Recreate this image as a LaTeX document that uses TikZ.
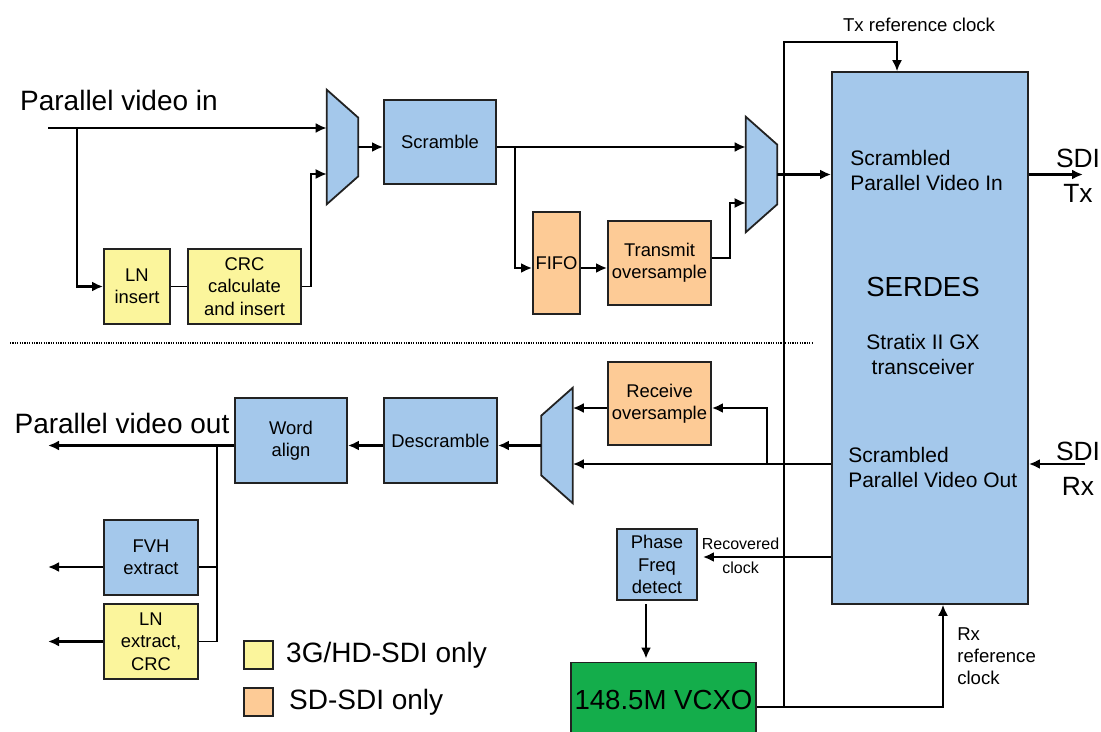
\documentclass[tikz,border=0pt]{standalone}
\usepackage{fontspec}
\setmainfont{Liberation Sans}
\usetikzlibrary{arrows.meta,positioning}

\definecolor{blkblue}{HTML}{A4C8EB}
\definecolor{blkyellow}{HTML}{FBF59C}
\definecolor{blkorange}{HTML}{FDCB96}
\definecolor{vcxogreen}{HTML}{14AD4B}
\definecolor{edgegray}{HTML}{222222}

\newcommand{\boxfont}{\fontsize{9.2}{11.2}\selectfont}
\newcommand{\bigfont}{\fontsize{14}{17}\selectfont}
\newcommand{\midfont}{\fontsize{10.5}{12.5}\selectfont}
\newcommand{\smallfont}{\fontsize{8}{12}\selectfont}
\newcommand{\clkfont}{\fontsize{9.3}{11}\selectfont}
\newcommand{\sdifont}{\fontsize{13.2}{17.5}\selectfont}

\begin{document}
\begin{tikzpicture}[x=0.5pt,y=-0.5pt,>={Latex[length=5.5pt,width=5pt]},line width=1.3pt]
\tikzstyle{blk}=[draw=edgegray,line width=0.9pt,inner sep=0pt,align=center,font=\boxfont,text=black]
\tikzstyle{mux}=[inner sep=0pt,minimum width=14.5pt]
\tikzstyle{muxshape}=[fill=blkblue,draw=edgegray,line width=0.9pt]
\tikzstyle{wire}=[line width=0.8pt]
\tikzstyle{leg}=[draw=edgegray,line width=0.9pt,minimum width=14.5pt,minimum height=14pt,inner sep=0pt]

\useasboundingbox (0,0) rectangle (1101,732);

% transmit side
\node[font=\bigfont]	(pvin) at (119,100) {Parallel video in};
\coordinate		(vin) at (48,128);
\coordinate		(vtap) at (77,128);
\node[blk,fill=blkyellow,minimum width=33pt,minimum height=37.5pt]	(lnins) at (137,286.5) {LN\\insert};
\node[blk,fill=blkyellow,minimum width=56.5pt,minimum height=37.5pt]	(crc) [right of=lnins,node distance=53.75pt] {CRC\\calculate\\and insert};
\node[mux,minimum height=56pt]	(mux1) at (342.5,147) {};
\node[blk,fill=blkblue,minimum width=56pt,minimum height=42pt]	(scr) at (440,142) {Scramble};
\coordinate		(scrtap) at (515,147);
\node[blk,fill=blkorange,minimum width=23.5pt,minimum height=51pt]	(fifo) at (556.5,263) {FIFO};
\node[blk,fill=blkorange,minimum width=51.5pt,minimum height=42pt]	(txos) [right of=fifo,node distance=51.5pt] {Transmit\\oversample};
\node[mux,minimum height=56.5pt]	(mux2) at (761.5,174.5) {};

% serdes
\node[blk,fill=blkblue,minimum width=98pt,minimum height=266pt]	(serdes) at (930,338) {};
\node[font=\fontsize{13.8}{16}\selectfont]	(serdesl) at (923,287) {SERDES};
\node[font=\midfont,align=center]	(stratix) [below of=serdesl,node distance=33.75pt] {Stratix II GX\\transceiver};
\node[font=\midfont,align=left,anchor=west,inner sep=0pt]	(spvin) at (849,170.5) {Scrambled\\Parallel Video In};
\node[font=\midfont,align=left,anchor=west,inner sep=0pt]	(spvout) at (847,467.5) {Scrambled\\Parallel Video Out};
\node[font=\clkfont]	(txclk) at (919,25) {Tx reference clock};
\node[font=\sdifont,align=center]	(sditxl) at (1078,175.5) {SDI\\Tx};
\node[font=\sdifont,align=center]	(sdirxl) at (1078,469) {SDI\\Rx};
\coordinate		(txout) at (1083,174.5);
\coordinate		(rxin) at (1085,464);

% receive side
\node[mux,minimum height=56.5pt]	(mux3) at (557,445.5) {};
\coordinate		(rxtap) at (767,464);
\node[blk,fill=blkorange,minimum width=51.5pt,minimum height=41.5pt]	(rxos) at (659.5,403.5) {Receive\\oversample};
\node[blk,fill=blkblue,minimum width=56.5pt,minimum height=42.5pt]	(desc) at (440.5,440.5) {Descramble};
\node[blk,fill=blkblue,minimum width=56pt,minimum height=42.5pt]	(wal) [left of=desc,node distance=74.75pt] {Word\\align};
\node[font=\bigfont]	(pvout) at (122,423) {Parallel video out};
\coordinate		(vout) at (48,445.5);
\coordinate		(outtap) at (217,445.5);
\node[blk,fill=blkblue,minimum width=47pt,minimum height=37.5pt]	(fvh) at (151,557.5) {FVH\\extract};
\node[blk,fill=blkyellow,minimum width=47pt,minimum height=37.5pt]	(lnext) [below of=fvh,node distance=42pt] {LN\\extract,\\CRC};

% clocking
\node[blk,fill=blkblue,minimum width=40pt,minimum height=35.5pt]	(pfd) at (657,564.5) {Phase\\Freq\\detect};
\node[blk,fill=vcxogreen,minimum width=92.5pt,minimum height=37.5pt,font=\fontsize{13.8}{16}\selectfont]	(vcxo) at (663.5,700) {148.5M VCXO};
\node[font=\clkfont,align=left,anchor=west,inner sep=0pt]	(rxclk) at (956,656) {Rx\\reference\\clock};
\coordinate		(recclk) at ([yshift=3.75pt]pfd.east);
\coordinate		(pfdout) at ([xshift=-5.5pt]pfd.south);
\coordinate		(vcxoout) at ([yshift=-3.5pt]vcxo.east);
\coordinate		(rxref) at ([xshift=6.5pt]serdes.south);
\coordinate		(txref) at ([xshift=-16.5pt]serdes.north);
\coordinate		(clktap) at (784,707);

% legend
\node[leg,fill=blkyellow]	(leghd) at (258.5,655) {};
\node[leg,fill=blkorange]	(legsd) [below of=leghd,node distance=23.5pt] {};
\node[font=\bigfont,inner sep=0pt]	(leghdt) [right=5.5pt of leghd] {3G/HD-SDI only};
\node[font=\bigfont,inner sep=0pt]	(legsdt) [right=7pt of legsd] {SD-SDI only};

% mux shapes
\draw[muxshape] (mux1.north west) -- ([yshift=-14pt]mux1.north east) -- ([yshift=14pt]mux1.south east) -- (mux1.south west) -- cycle;
\draw[muxshape] (mux2.north west) -- ([yshift=-14pt]mux2.north east) -- ([yshift=14pt]mux2.south east) -- (mux2.south west) -- cycle;
\draw[muxshape] (mux3.north east) -- ([yshift=-14pt]mux3.north west) -- ([yshift=14pt]mux3.south west) -- (mux3.south east) -- cycle;

\draw[line width=0.7pt,dash pattern=on 0.6pt off 0.6pt] (10,343) -- (812,343);

\path[->]
(vin) edge (vin -| mux1.west)
(mux1.east) edge (mux1.east -| scr.west)
(mux1.east -| scr.east) edge (mux1.east -| mux2.west)
([yshift=-2.5pt]fifo.east) edge ([yshift=-2.5pt]txos.west)
(mux2.east) edge (mux2.east -| serdes.west)
(mux2.east -| serdes.east) edge (txout)
(rxin) edge (rxin -| serdes.east)
(rxin -| serdes.west) edge (rxin -| mux3.east)
([yshift=-2.25pt]rxos.west) edge ([yshift=-2.25pt]rxos.west -| mux3.east)
(mux3.west) edge (mux3.west -| desc.east)
(mux3.west -| desc.west) edge (mux3.west -| wal.east)
(mux3.west -| wal.west) edge (vout)
([yshift=-4.75pt]fvh.west) edge ([yshift=-4.75pt]fvh.west -| vout)
(lnext.west) edge (lnext.west -| vout)
;

\draw[->] (vtap) |- (lnins.west);
\draw[wire] (lnins.east) -- (crc.west);
\draw[wire,->] (crc.east) -- ++(9,0) |- ([yshift=-13.5pt]mux1.west);
\draw[->] (scrtap) |- ([yshift=-2.5pt]fifo.west);
\draw[wire,->] ([yshift=2.5pt]txos.east) -- ++(18,0) |- ([yshift=-14.25pt]mux2.west);
\draw[->] (rxtap) |- ([yshift=-2.25pt]rxos.east);
\draw[wire] (outtap) |- (lnext.east);
\draw[wire] ([yshift=-4.75pt]fvh.east) -- ([yshift=-4.75pt]fvh.east -| outtap);
\draw[->,shorten >=2.5pt] (recclk -| serdes.west) -- (recclk)
  node[pos=0.68,yshift=6.5pt,font=\smallfont] {Recovered}
  node[pos=0.68,yshift=-5.5pt,font=\smallfont] {clock};
\draw[->,shorten <=1.5pt,shorten >=1.5pt] (pfdout) -- (pfdout |- vcxo.north);
\draw[wire,->] (vcxoout) -| (rxref);
\draw[wire,->] (clktap) |- ([yshift=14.5pt]txref) -| (txref);
\end{tikzpicture}
\end{document}
